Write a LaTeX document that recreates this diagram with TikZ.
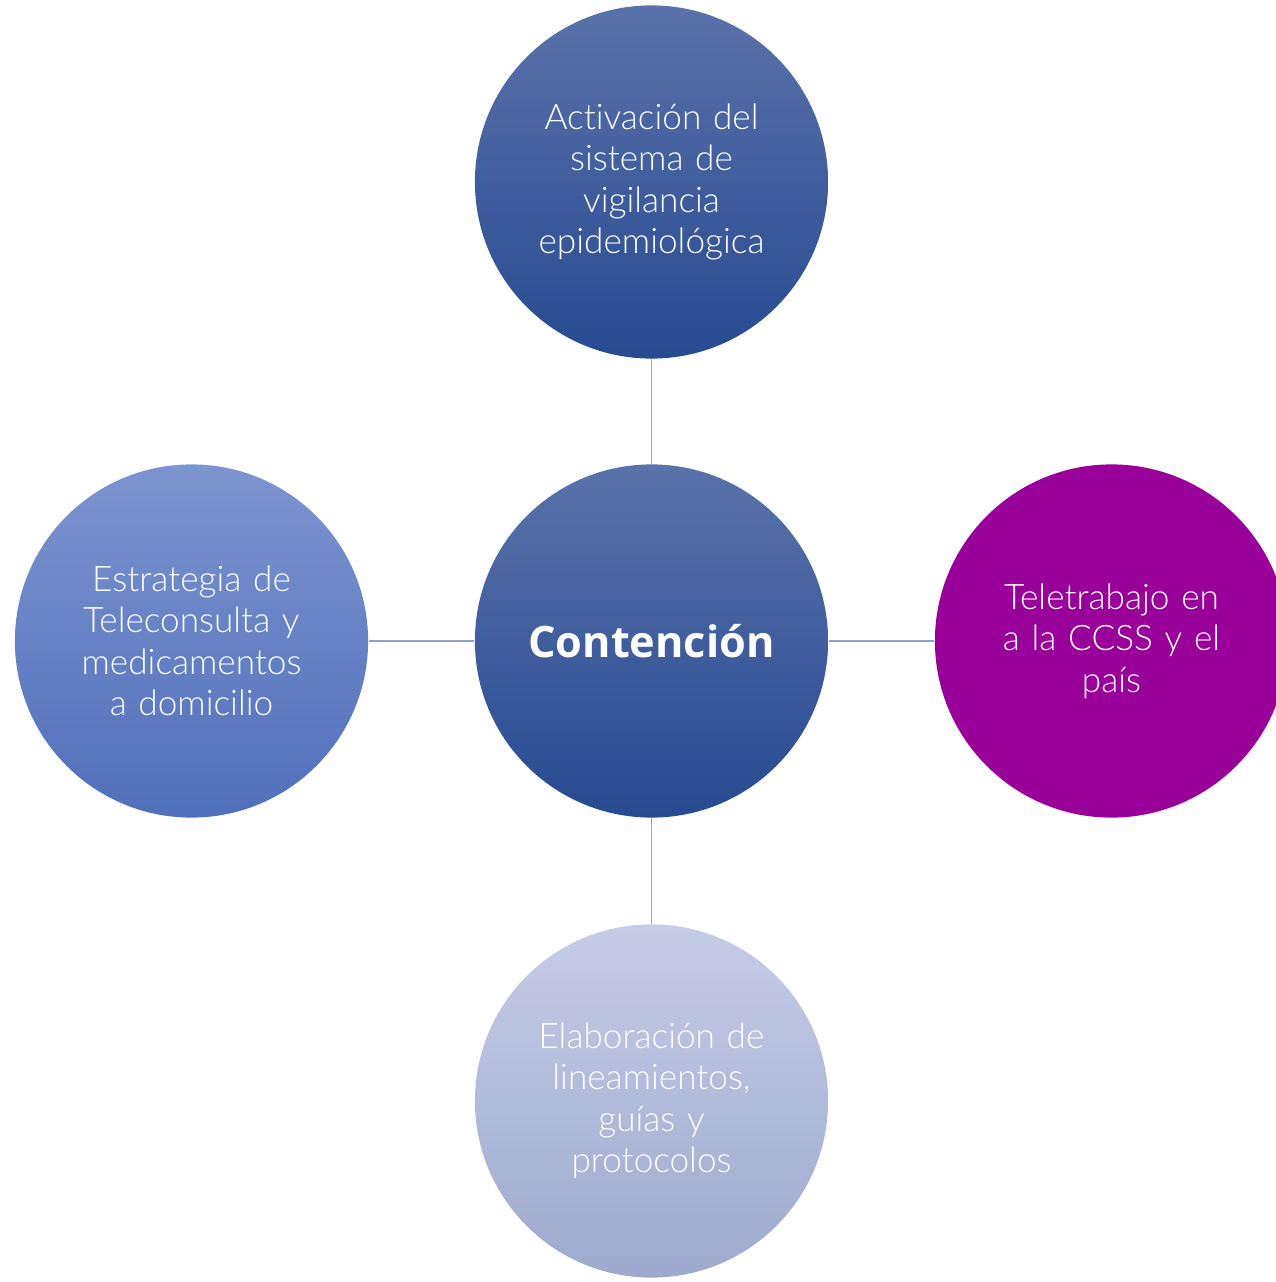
\documentclass[tikz,border=0pt]{standalone}
\usepackage{fontspec}
\setmainfont[Ligatures=CommonOff]{Lato Light}
\newfontfamily\boldf{Open Sans Bold}
\definecolor{cTopA}{HTML}{5A72AA}
\definecolor{cMidA}{HTML}{3A5CA5}
\definecolor{cBotA}{HTML}{274A91}
\definecolor{lTop}{HTML}{7C94CF}
\definecolor{lBot}{HTML}{5170BB}
\definecolor{bTop}{HTML}{C5CCE6}
\definecolor{bBot}{HTML}{9DAACE}
\definecolor{purp}{HTML}{990099}
\definecolor{lnk}{HTML}{8FA2D0}
\begin{document}
\begin{tikzpicture}[x=0.01cm,y=-0.01cm,
  bub/.style={circle, minimum size=3.53cm, inner sep=0pt, text=white, align=center,
    font=\fontsize{10pt}{11.8pt}\selectfont, text width=2.7cm},
  dark/.style={bub, top color=cTopA, middle color=cMidA, bottom color=cBotA},
  link/.style={draw=lnk, line width=0.35pt}]
\useasboundingbox (0,0) rectangle (1276,1282);
\node[dark] (c) at (651.5,641) {\boldf\fontsize{12.3pt}{14pt}\selectfont Contención};
\node[dark] (t) at (651.5,182) {Activación del\\sistema de\\vigilancia\\epidemiológica};
\node[bub, top color=lTop, bottom color=lBot] (l) at (191.5,641) {Estrategia de\\Teleconsulta y\\medicamentos\\a domicilio};
\node[bub, fill=purp] (r) at (1111.5,641) {Teletrabajo en\\a la CCSS y el\\país};
\node[bub, top color=bTop, bottom color=bBot] (b) at (651.5,1101) {Elaboración de\\lineamientos,\\guías y\\protocolos};
\draw[link] (c) -- (t);
\draw[link] (c) -- (l);
\draw[link] (c) -- (r);
\draw[link] (c) -- (b);
\end{tikzpicture}
\end{document}
